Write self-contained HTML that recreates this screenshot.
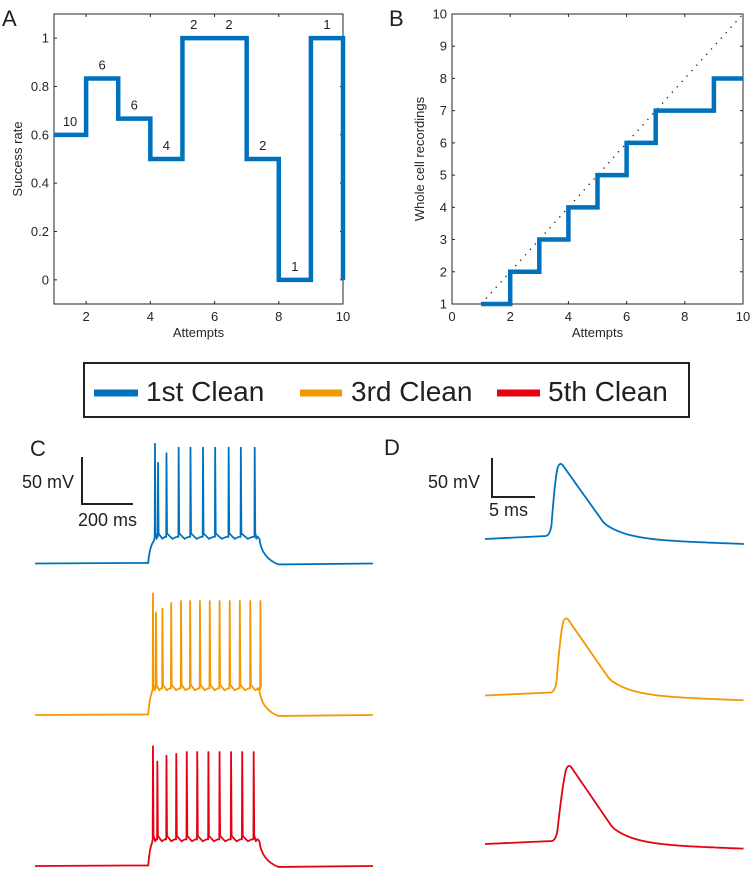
<!DOCTYPE html>
<html><head><meta charset="utf-8">
<style>
html,body{margin:0;padding:0;background:#fff;}
svg{display:block;font-family:"Liberation Sans",Arial,sans-serif;}
</style></head>
<body>
<svg id="fig" width="754" height="877" viewBox="0 0 754 877" xmlns="http://www.w3.org/2000/svg">
<g id="pa"></g>
<g id="pb"></g>
<g id="leg">
 <rect x="84" y="363" width="605" height="54" fill="none" stroke="#231f20" stroke-width="2"/>
 <line x1="94" y1="393" x2="138" y2="393" stroke="#0072bd" stroke-width="7"/>
 <text x="146" y="401" font-size="28" fill="#231f20">1st Clean</text>
 <line x1="300" y1="393" x2="342" y2="393" stroke="#f39800" stroke-width="7"/>
 <text x="351" y="401" font-size="28" fill="#231f20">3rd Clean</text>
 <line x1="497" y1="393" x2="540" y2="393" stroke="#e60012" stroke-width="7"/>
 <text x="548" y="401" font-size="28" fill="#231f20">5th Clean</text>
</g>
<g id="pc">
 <text x="30" y="456" font-size="22" fill="#231f20">C</text>
 <path d="M82,457 V504 H133" fill="none" stroke="#231f20" stroke-width="2"/>
 <text x="22" y="488" font-size="18" fill="#231f20">50 mV</text>
 <text x="78" y="526" font-size="18" fill="#231f20">200 ms</text>
</g>
<g id="pd">
 <text x="384" y="455" font-size="22" fill="#231f20">D</text>
 <path d="M492,458 V497 H535" fill="none" stroke="#231f20" stroke-width="2"/>
 <text x="428" y="488" font-size="18" fill="#231f20">50 mV</text>
 <text x="489" y="516" font-size="18" fill="#231f20">5 ms</text>
</g>
</svg>
<script>
var NS="http://www.w3.org/2000/svg";
function mk(tag,attrs,parent){var e=document.createElementNS(NS,tag);for(var k in attrs)e.setAttribute(k,attrs[k]);parent.appendChild(e);return e;}

// ---- Panel A data ----
var aEdges=[1,2,3,4,5,6,7,8,9,10];
var aRates=[0.6,0.833,0.667,0.5,1,1,0.5,0,1];
var aCounts=["10","6","6","4","2","2","2","1","1"];
var aCountX=[1.5,2.5,3.5,4.5,5.35,6.45,7.5,8.5,9.5];
var aXTicks=[2,4,6,8,10];
var aYTicks=[0,0.2,0.4,0.6,0.8,1];
// ---- Panel B data ----
var bEdges=[1,2,3,4,5,6,7,8,9,10];
var bCounts=[1,2,3,4,5,6,7,7,8];
var bXTicks=[0,2,4,6,8,10];
var bYTicks=[1,2,3,4,5,6,7,8,9,10];
// ---- Panel C data (spike times in ms over a 0..1000 ms sweep; peaks in mV above rest) ----
var c1Spikes=[355,364,389,425,460,497,533,573,609,650];
var c1Peaks=[63,53,58,61,61,61,61,61,61,61];
var c2Spikes=[349,358,377,403,432,459,488,517,546,576,606,637,667];
var c2Peaks=[64,54,56,59,60,60,60,60,60,60,60,60,60];
var c3Spikes=[349,362,389,418,449,480,513,546,580,613,647];
var c3Peaks=[63,55,58,59,60,60,60,60,60,60,60];
// ---- Panel D data ----
var dPeakAmp=[76,78,79];
var dBase=[0,0,0];

var colors=["#0072bd","#f39800","#e60012"];

function axesBox(g,L,R,T,B,xs,ys,xTicks,yTicks,xfmt,yfmt,xlabel,ylabel,ylabX,pre){
  mk("rect",{x:L,y:T,width:R-L,height:B-T,fill:"none",stroke:"#262626","stroke-width":1,},g);
  xTicks.forEach(function(t){
    var x=xs(t);
    mk("line",{x1:x,y1:B,x2:x,y2:B-3,stroke:"#262626"},g);
    mk("line",{x1:x,y1:T,x2:x,y2:T+3,stroke:"#262626"},g);
    var tx=mk("text",{x:x,y:B+17,"font-size":13,"text-anchor":"middle",fill:"#262626"},g);
    
    
    tx.textContent=xfmt(t);
  });
  yTicks.forEach(function(t){
    var y=ys(t);
    mk("line",{x1:L,y1:y,x2:L+3,y2:y,stroke:"#262626"},g);
    mk("line",{x1:R,y1:y,x2:R-3,y2:y,stroke:"#262626"},g);
    var ty=mk("text",{x:L-5,y:y+4.5,"font-size":13,"text-anchor":"end",fill:"#262626"},g);
    
    
    ty.textContent=yfmt(t);
  });
  var xl=mk("text",{x:(L+R)/2,y:B+33,"font-size":13,"text-anchor":"middle",fill:"#262626"},g);
  
  
  xl.textContent=xlabel;
  var yl=mk("text",{x:0,y:0,"font-size":13,"text-anchor":"middle",fill:"#262626",transform:"translate("+ylabX+","+((T+B)/2)+") rotate(-90)"},g);
  
  
  yl.textContent=ylabel;
}

// Panel A
(function(){
  var g=document.getElementById("pa");
  var L=54,R=343,T=14,B=304;
  var xs=function(v){return L+(v-1)/9*(R-L);};
  var ys=function(v){return B-(v+0.1)/1.2*(B-T);};
  var lab=mk("text",{x:2,y:26,"font-size":22,fill:"#231f20"},g);
  
  
  lab.textContent="A";
  axesBox(g,L,R,T,B,xs,ys,aXTicks,aYTicks,function(t){return String(t);},function(t){return String(Math.round(t*10)/10);},"Attempts","Success rate",22,"a");
  var d="";
  for(var i=0;i<aRates.length;i++){
    d+=(i==0?"M":"L")+xs(aEdges[i])+","+ys(aRates[i])+" L"+xs(aEdges[i+1])+","+ys(aRates[i]);
  }
  d+=" L"+xs(aEdges[aEdges.length-1])+","+ys(0);
  var p=mk("path",{d:d,fill:"none",stroke:"#0072bd","stroke-width":4.5,"stroke-linejoin":"miter"},g);
  
  
  for(var j=0;j<aCounts.length;j++){
    var t=mk("text",{x:xs(aCountX[j]),y:ys(aRates[j])-9,"font-size":13,"text-anchor":"middle",fill:"#231f20"},g);
    
    
    t.textContent=aCounts[j];
  }
})();

// Panel B
(function(){
  var g=document.getElementById("pb");
  var L=452,R=743,T=14,B=304;
  var xs=function(v){return L+v/10*(R-L);};
  var ys=function(v){return B-(v-1)/9*(B-T);};
  var lab=mk("text",{x:389,y:26,"font-size":22,fill:"#231f20"},g);
  
  
  lab.textContent="B";
  axesBox(g,L,R,T,B,xs,ys,bXTicks,bYTicks,String,String,"Attempts","Whole cell recordings",424,"b");
  var dl=mk("line",{x1:xs(1),y1:ys(1),x2:xs(10),y2:ys(10),stroke:"#231f20","stroke-width":1.3,"stroke-dasharray":"1.3 6"},g);
  
  
  var d="";
  for(var i=0;i<bCounts.length;i++){
    d+=(i==0?"M":"L")+xs(bEdges[i])+","+ys(bCounts[i])+" L"+xs(bEdges[i+1])+","+ys(bCounts[i]);
  }
  var p=mk("path",{d:d,fill:"none",stroke:"#0072bd","stroke-width":4.5},g);
  
  
})();

// Panel C traces
function trainPath(spikes,peaks,baseY,scale){
  var tx=function(t){return 35+t*0.338;};
  var vy=function(v){return baseY-v*scale;};
  var stepOn=335,stepOff=660;
  var plat=13,trough=15;
  var d="M"+tx(0)+","+vy(0)+" L"+tx(stepOn)+","+vy(0.3);
  d+=" Q"+tx(stepOn+4)+","+vy(9)+" "+tx(spikes[0]-3)+","+vy(12);
  for(var i=0;i<spikes.length;i++){
    var s=spikes[i];
    d+=" L"+tx(s-0.8)+","+vy(plat+1)+" L"+tx(s)+","+vy(peaks[i])+" L"+tx(s+1.6)+","+vy(plat+3);
    var next=(i<spikes.length-1)?spikes[i+1]:stepOff;
    var mid=(s+next)/2;
    d+=" Q"+tx(s+3)+","+vy(trough+0.5)+" "+tx(mid)+","+vy(trough-2);
    d+=" Q"+tx(next-3)+","+vy(trough-0.5)+" "+tx(next-0.8)+","+vy(plat+1);
  }
  d+=" L"+tx(stepOff+4)+","+vy(trough-2)+" Q"+tx(stepOff+10)+","+vy(3)+" "+tx(stepOff+60)+","+vy(-0.5);
  d+=" L"+tx(1000)+","+vy(0);
  return d;
}
(function(){
  var g=document.getElementById("pc");
  var sets=[[c1Spikes,c1Peaks,563.5],[c2Spikes,c2Peaks,715],[c3Spikes,c3Peaks,866]];
  var names=['spike-train-1st-clean','spike-train-3rd-clean','spike-train-5th-clean'];
  for(var k=0;k<3;k++){
    var p=mk("path",{d:trainPath(sets[k][0],sets[k][1],sets[k][2],1.9),fill:"none",stroke:colors[k],"stroke-width":1.8,"stroke-linejoin":"round"},g);
    
    
  }
})();

// Panel D traces
(function(){
  var g=document.getElementById("pd");
  var bases=[539,695.5,844];
  var onsets=[550,555,556];
  var peaksX=[561,566.5,569.5];
  var names=['action-potential-1st-clean','action-potential-3rd-clean','action-potential-5th-clean'];
  for(var k=0;k<3;k++){
    var base=bases[k]+dBase[k], on=onsets[k], px=peaksX[k];
    var vy=function(v){return base-v;};
    var d="M485,"+vy(0)+" L"+(on-4)+","+vy(3)+" Q"+(on)+","+vy(4)+" "+(on+1.5)+","+vy(14);
    d+=" Q"+(px-5)+","+vy(dPeakAmp[k]-2)+" "+(px-2)+","+vy(dPeakAmp[k]-2);
    d+=" Q"+(px)+","+vy(dPeakAmp[k]+1)+" "+(px+3)+","+vy(dPeakAmp[k]-4);
    var pts=[];
    for(var x=px+3;x<=746;x+=3){
      var t=x-(px+3);
      var v;
      if(t<40) v=(dPeakAmp[k]-4)*(1-t/40*0.78);
      else v=(dPeakAmp[k]-4)*0.22*Math.exp(-(t-40)/22)-5*(t-40)/140;
      if(t>=40) v=Math.max(v,-5*(Math.min(t,180)-40)/140);
      pts.push(x.toFixed(1)+","+vy(v).toFixed(1));
    }
    d+=" L"+pts.join(" L");
    var p=mk("path",{d:d,fill:"none",stroke:colors[k],"stroke-width":1.8,"stroke-linejoin":"round"},g);
    
    
  }
})();
</script>
</body></html>
